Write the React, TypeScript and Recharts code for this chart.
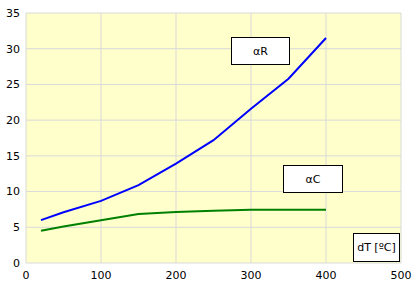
import { LineChart, Line, XAxis, YAxis, CartesianGrid } from "recharts";

const dT = [20, 50, 100, 150, 200, 250, 300, 350, 400];
const alphaR = [6.0, 7.1, 8.7, 10.9, 13.9, 17.2, 21.6, 25.8, 31.5];
const alphaC = [4.5, 5.1, 6.0, 6.85, 7.15, 7.3, 7.45, 7.45, 7.45];
const xTicks = [0, 100, 200, 300, 400, 500];
const yTicks = [0, 5, 10, 15, 20, 25, 30, 35];

const data = dT.map((t, i) => ({ dT: t, aR: alphaR[i], aC: alphaC[i] }));

const font = "Tahoma, 'DejaVu Sans', Verdana, sans-serif";

const boxStyle = (left: number, top: number, w: number, h: number): React.CSSProperties => ({
  position: "absolute",
  left,
  top,
  width: w,
  height: h,
  boxSizing: "border-box",
  border: "1px solid #000",
  background: "#fff",
  display: "flex",
  alignItems: "center",
  justifyContent: "center",
  fontFamily: font,
  fontSize: 11,
  color: "#000",
  whiteSpace: "nowrap",
});

export default function App() {
  return (
    <div style={{ position: "absolute", left: 0, top: 0, width: 417, height: 291, background: "#fff" }}>
      <LineChart
        width={417}
        height={291}
        data={data}
        margin={{ top: 13, right: 16, bottom: 0, left: 0 }}
      >
        <CartesianGrid stroke="#D9D9D9" fill="#FFFFCC" strokeWidth={1} />
        <XAxis
          dataKey="dT"
          type="number"
          domain={[0, 500]}
          ticks={xTicks}
          height={28}
          tickSize={0}
          tickMargin={8}
          axisLine={false}
          tick={{ fill: "#000", fontSize: 11, fontFamily: font }}
        />
        <YAxis
          type="number"
          domain={[0, 35]}
          ticks={yTicks}
          width={26}
          tickSize={0}
          tickMargin={6}
          axisLine={false}
          tick={{ fill: "#000", fontSize: 11, fontFamily: font }}
        />
        <Line dataKey="aR" stroke="#0000FF" strokeWidth={2} dot={false} type="linear" isAnimationActive={false} />
        <Line dataKey="aC" stroke="#008000" strokeWidth={2} dot={false} type="linear" isAnimationActive={false} />
      </LineChart>
      <div style={boxStyle(231, 37, 59, 28)}>αR</div>
      <div style={boxStyle(283, 165, 60, 28)}>αC</div>
      <div style={boxStyle(353, 233, 47, 29)}>dT [ºC]</div>
    </div>
  );
}
